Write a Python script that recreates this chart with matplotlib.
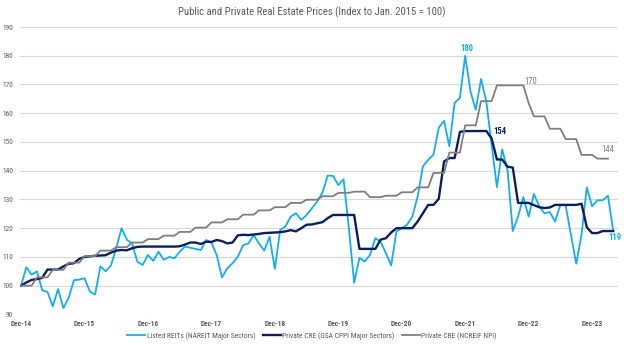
import numpy as np
import matplotlib
matplotlib.use("Agg")
import matplotlib.pyplot as plt
from matplotlib import font_manager

# ---------------- data ----------------
title = "Public and Private Real Estate Prices (Index to Jan. 2015 = 100)"
series_names = ["Listed REITs (NAREIT Major Sectors)",
                "Private CRE (GSA CPPI Major Sectors)",
                "Private CRE (NCREIF NPI)"]
tick_labels = ["Dec-14", "Dec-15", "Dec-16", "Dec-17", "Dec-18",
               "Dec-19", "Dec-20", "Dec-21", "Dec-22", "Dec-23"]
tick_months = [0, 12, 24, 36, 48, 60, 72, 84, 96, 108]

reits = [100, 106.4, 103.8, 105, 98.4, 97.8, 92.8, 98.8, 92.2, 95.7,
         101.9, 102.1, 102.6, 98, 96.9, 106.7, 105, 107, 113, 120,
         116, 114.7, 108.3, 107.2, 110.7, 108.6, 111.8, 109, 110, 109.5,
         111.8, 113.6, 113.2, 112.8, 112.4, 115.9, 115, 110.7, 102.9, 106,
         107.8, 110.1, 114.1, 114.7, 117.6, 114.7, 112.2, 117, 105.8, 119.4,
         120.6, 124, 125.2, 122.9, 124.6, 126.9, 129.2, 132.4, 138.3, 138.2,
         135, 137, 120, 101, 109.7, 108.4, 110.7, 116.5, 115.3, 111.3,
         107, 118.9, 120, 121.2, 124, 131, 141.5, 143.8, 145.6, 154.9,
         157.4, 148.5, 163.6, 165.3, 180, 167.6, 161.2, 171.9, 164, 149,
         134.3, 147.4, 140.3, 119, 124, 130.8, 124, 131.9, 127.6, 125.2,
         125.6, 122.3, 128.1, 127.9, 117.7, 107.6, 117.7, 134.2, 127.6, 129.7,
         129.7, 131.3, 119]

cppi = [100, 101.1, 102, 102.3, 102.7, 105.6, 105.6, 105.6, 106.7, 107.6,
        107.8, 109.3, 110, 110.2, 110.4, 110.5, 110.6, 111.5, 112.2, 112.4,
        112.3, 113, 113.5, 113.6, 113.6, 113.6, 113.6, 113.6, 113.6, 113.6,
        113.7, 114.3, 115, 115, 114.5, 115.3, 115.2, 115.9, 115.5, 114.7,
        115, 117.5, 117.7, 117.6, 117.8, 118, 118.3, 118.4, 118.5, 118.6,
        118.9, 119.3, 118.9, 120, 121.2, 121.3, 121.7, 122.1, 123.5, 124.6,
        124.6, 124.6, 124.6, 124.6, 112.8, 112.8, 112.8, 112.8, 116, 116.5,
        118.5, 120, 120, 120, 120, 122.3, 125.2, 128.1, 128.1, 130.2,
        143.2, 144.4, 144.4, 153.5, 153.8, 153.8, 153.8, 153.8, 153.8, 151.2,
        143.9, 143.9, 141.4, 141.1, 128.8, 128.8, 128.8, 128, 127.3, 127,
        127.2, 128.1, 128.1, 128.1, 128.1, 128.1, 128.5, 120.3, 118.3, 118.3,
        119, 119, 119]

ncreif = [100, 100, 100, 102.9, 102.9, 102.9, 105.5, 105.5, 105.5, 108, 108, 108,
          110.3, 110.3, 110.3, 112.2, 112.2, 112.2, 113.4, 113.4, 113.4, 115, 115, 115,
          116.2, 116.2, 116.2, 117.4, 117.4, 117.4, 118.7, 118.7, 118.7, 120.2, 120.2, 120.2,
          122, 122, 122, 123.1, 123.1, 123.1, 124.7, 124.7, 124.7, 126.2, 126.2, 126.2,
          127.3, 127.3, 127.3, 128.8, 128.8, 128.8, 129.9, 129.9, 129.9, 131.1, 131.1, 131.1,
          132.3, 132.3, 132.3, 132.7, 132.7, 132.7, 130.8, 130.8, 130.8, 131.3, 131.3, 131.3,
          132.5, 132.5, 132.5, 134.2, 134.2, 134.2, 139.2, 139.2, 139.2, 146.3, 146.3, 146.3,
          155.8, 155.8, 155.8, 164.2, 164.2, 164.2, 169.7, 169.7, 169.7, 169.7, 169.7, 169.7,
          163.5, 158.9, 158.9, 158.9, 154.6, 154.6, 154.6, 151, 151, 151,
          145.5, 145.5, 145.5, 144.2, 144.2, 144.2]

# ---------------- style ----------------
def pick_font(cands):
    avail = {f.name for f in font_manager.fontManager.ttflist}
    for c in cands:
        if c in avail:
            return c
    return "DejaVu Sans"

font = pick_font(["Liberation Sans Narrow", "Roboto Condensed", "Open Sans", "Liberation Sans"])
plt.rcParams["font.family"] = [font, "DejaVu Sans"]

c_reit = "#12AEEF"
c_cppi = "#0B1F5E"
c_ncr = "#7F7F7F"
c_txt = "#595959"

fig = plt.figure(figsize=(6.24, 3.45), dpi=100)
ax = fig.add_axes([20 / 624, 1 - 314.4 / 345, 598 / 624, (314.4 - 27) / 345])

x_r = np.arange(len(reits))
x_c = np.arange(len(cppi))
x_n = np.arange(len(ncreif))

ax.plot(x_r, reits, color=c_reit, lw=1.3, zorder=3, label=series_names[0])
ax.plot(x_c, cppi, color=c_cppi, lw=1.7, zorder=4, label=series_names[1])
ax.plot(x_n, ncreif, color=c_ncr, lw=1.3, zorder=5, label=series_names[2])

ax.set_xlim(-0.2, 112.9)
ax.set_ylim(90, 190)
ax.set_yticks(np.arange(90, 191, 10))
ax.yaxis.grid(True, color="#D9D9D9", lw=0.8)
ax.set_axisbelow(True)
for s in ax.spines.values():
    s.set_visible(False)
ax.set_xticks(tick_months)
ax.set_xticklabels(tick_labels)
ax.tick_params(axis="both", length=0, labelsize=5.3, labelcolor=c_txt)
ax.tick_params(axis="x", pad=4)
ax.tick_params(axis="y", pad=5)
for lab in ax.get_xticklabels():
    lab.set_fontweight("bold")

fig.text(0.5, 1 - 12 / 345, title, ha="center", va="center", fontsize=7.7, color=c_txt)

# annotations
ax.text(84.25, 182.6, "180", color=c_reit, fontsize=6.2, fontweight="bold", ha="center", va="center")
ax.text(90.55, 153.6, "154", color=c_cppi, fontsize=6.2, fontweight="bold", ha="center", va="center")
ax.text(96.4, 171.2, "170", color=c_ncr, fontsize=6.2, ha="center", va="center")
ax.text(111.0, 147.4, "144", color=c_ncr, fontsize=6.2, ha="center", va="center")
ax.text(112.3, 116.7, "119", color=c_reit, fontsize=6.2, fontweight="bold", ha="center", va="center")

fig.legend(loc="center", bbox_to_anchor=(0.5, 1 - 336 / 345), ncol=3, frameon=False,
           fontsize=5.4, labelcolor=c_txt, handlelength=2.4, columnspacing=1.0,
           handletextpad=0.2)

fig.savefig("out.png", dpi=100)
